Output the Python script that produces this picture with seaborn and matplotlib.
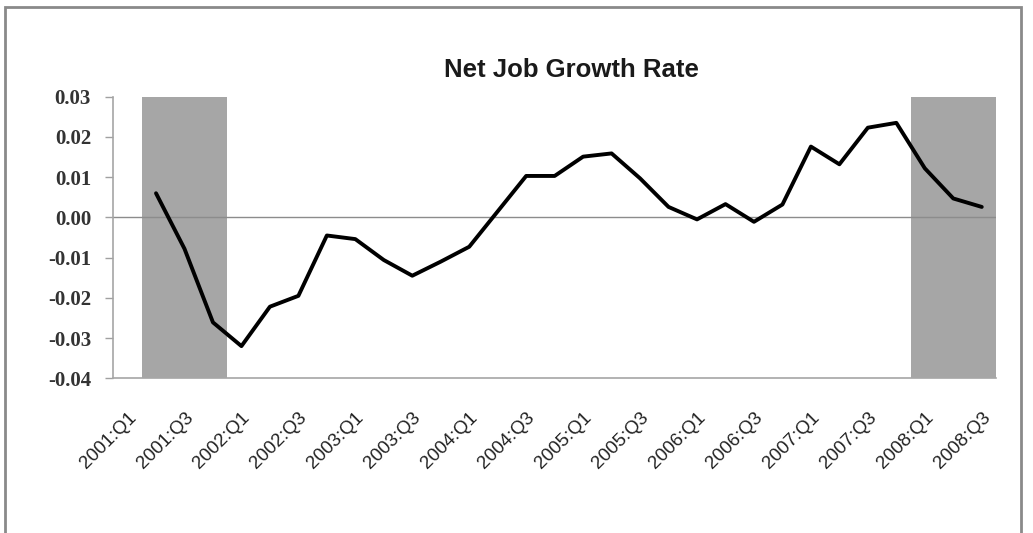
import numpy as np
import pandas as pd
import matplotlib
matplotlib.use("Agg")
import matplotlib.pyplot as plt
from matplotlib.patches import Rectangle
import seaborn as sns

# Quarterly categories on the horizontal axis
quarters = [
    "2001:Q1", "2001:Q2", "2001:Q3", "2001:Q4",
    "2002:Q1", "2002:Q2", "2002:Q3", "2002:Q4",
    "2003:Q1", "2003:Q2", "2003:Q3", "2003:Q4",
    "2004:Q1", "2004:Q2", "2004:Q3", "2004:Q4",
    "2005:Q1", "2005:Q2", "2005:Q3", "2005:Q4",
    "2006:Q1", "2006:Q2", "2006:Q3", "2006:Q4",
    "2007:Q1", "2007:Q2", "2007:Q3", "2007:Q4",
    "2008:Q1", "2008:Q2", "2008:Q3",
]

# Net job growth rate per quarter (no observation for 2001:Q1)
growth = [
    np.nan, 0.0060, -0.0078, -0.0261,
    -0.0320, -0.0222, -0.0195, -0.0045,
    -0.0054, -0.0106, -0.0145, -0.0110,
    -0.0073, 0.0015, 0.0103, 0.0103,
    0.0151, 0.0159, 0.0097, 0.0026,
    -0.0005, 0.0033, -0.0011, 0.0032,
    0.0176, 0.0132, 0.0223, 0.0235,
    0.0122, 0.0047, 0.0026,
]

# Recession quarters shaded in grey
recession = [
    0, 1, 1, 1,
    0, 0, 0, 0,
    0, 0, 0, 0,
    0, 0, 0, 0,
    0, 0, 0, 0,
    0, 0, 0, 0,
    0, 0, 0, 0,
    1, 1, 1,
]

y_ticks = [-0.04, -0.03, -0.02, -0.01, 0.00, 0.01, 0.02, 0.03]

df = pd.DataFrame({"quarter": quarters, "growth": growth, "recession": recession})
df["pos"] = np.arange(len(df))

sns.set_theme(style="white")
plt.rcParams["font.family"] = ["Liberation Sans", "DejaVu Sans"]

fig = plt.figure(figsize=(10.33, 5.33), dpi=100)
ax = fig.add_axes([113.3 / 1033, 1 - 378.3 / 533, (996 - 113.3) / 1033, (378.3 - 96.7) / 533])

y_lo, y_hi = y_ticks[0], y_ticks[-1]

# recession shading as full-height bars, one per flagged quarter
rec = df[df["recession"] == 1]
ax.bar(rec["pos"], [y_hi - y_lo] * len(rec), bottom=y_lo, width=1.0,
       color="#a6a6a6", linewidth=0, zorder=1)

# zero reference line
ax.axhline(0, color="#8c8c8c", linewidth=1.0, zorder=2)

sns.lineplot(data=df.dropna(), x="pos", y="growth", color="black",
             linewidth=2.8, ax=ax, zorder=3)

ax.set_xlim(-0.5, len(quarters) - 0.5)
ax.set_ylim(y_lo, y_hi)
ax.set_yticks(y_ticks)
ax.set_yticklabels([f"{t:.2f}" for t in y_ticks], family="Liberation Serif",
                   fontweight="bold", fontsize=15, color="#333333")
xt = list(range(0, len(quarters), 2))
ax.set_xticks(xt)
ax.set_xticklabels([quarters[i] for i in xt], rotation=45, ha="right",
                   rotation_mode="anchor", fontsize=13.5, color="#222222")
ax.set_xlabel("")
ax.set_ylabel("")

ax.tick_params(axis="y", direction="out", length=6, width=1, color="#a0a0a0", pad=10, left=True)
ax.tick_params(axis="x", length=0, pad=22)

for side in ["top", "right"]:
    ax.spines[side].set_visible(False)
for side in ["left", "bottom"]:
    ax.spines[side].set_color("#a6a6a6")
    ax.spines[side].set_linewidth(1.2)

fig.text(571 / 1033, 1 - 70 / 533, "Net Job Growth Rate", ha="center", va="center",
         fontsize=18.5, fontweight="bold", color="#1a1a1a")

# outer chart frame
fig.patches.append(Rectangle((5 / 1033, -0.05), (1021 - 5) / 1033, 1 - 7 / 533 + 0.05,
                             transform=fig.transFigure, fill=False,
                             edgecolor="#8a8a8a", linewidth=2.0))

fig.savefig("out.png", dpi=100)
